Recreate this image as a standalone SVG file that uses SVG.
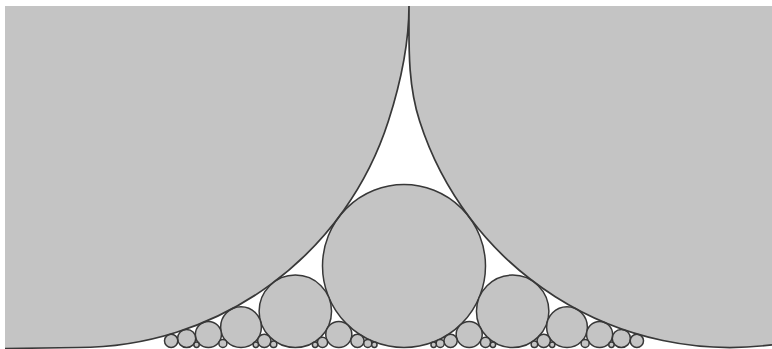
<svg xmlns="http://www.w3.org/2000/svg" width="772" height="349" viewBox="0 0 772 349">
<style>
.c{fill:#c4c4c4;stroke:#383838;stroke-width:1.5}
.edge{fill:none;stroke:#383838;stroke-width:1.7}
</style>
<rect x="0" y="0" width="772" height="349" fill="#ffffff"/>
<rect x="5" y="6" width="767" height="343" fill="#c4c4c4"/>
<g id="gap">
<path d="M5 348.5 L78 347.5 A326 326 0 0 0 388.4 121.1 C400.6 83 409 45 409 6 C409 45 407.4 83 419.6 121.1 A326 326 0 0 0 772 344.8 L772 349 L5 349 Z" fill="#ffffff"/>
</g>
<g id="circles">
<circle class="c" cx="404" cy="266" r="81.5"/>
<circle class="c" cx="295.33" cy="311.28" r="36.22"/>
<circle class="c" cx="512.67" cy="311.28" r="36.22"/>
<circle class="c" cx="241" cy="327.13" r="20.38"/>
<circle class="c" cx="567" cy="327.13" r="20.38"/>
<circle class="c" cx="208.4" cy="334.46" r="13.04"/>
<circle class="c" cx="338.8" cy="334.46" r="13.04"/>
<circle class="c" cx="469.2" cy="334.46" r="13.04"/>
<circle class="c" cx="599.6" cy="334.46" r="13.04"/>
<circle class="c" cx="186.67" cy="338.44" r="9.06"/>
<circle class="c" cx="621.33" cy="338.44" r="9.06"/>
<circle class="c" cx="171.14" cy="340.85" r="6.65"/>
<circle class="c" cx="264.29" cy="340.85" r="6.65"/>
<circle class="c" cx="357.43" cy="340.85" r="6.65"/>
<circle class="c" cx="450.57" cy="340.85" r="6.65"/>
<circle class="c" cx="543.71" cy="340.85" r="6.65"/>
<circle class="c" cx="636.86" cy="340.85" r="6.65"/>
<circle class="c" cx="322.5" cy="342.41" r="5.09"/>
<circle class="c" cx="485.5" cy="342.41" r="5.09"/>
<circle class="c" cx="222.89" cy="343.48" r="4.03"/>
<circle class="c" cx="367.78" cy="343.48" r="4.03"/>
<circle class="c" cx="440.22" cy="343.48" r="4.03"/>
<circle class="c" cx="585.11" cy="343.48" r="4.03"/>
<circle class="c" cx="273.6" cy="344.24" r="3.26"/>
<circle class="c" cx="534.4" cy="344.24" r="3.26"/>
<circle class="c" cx="196.55" cy="344.81" r="2.69"/>
<circle class="c" cx="255.82" cy="344.81" r="2.69"/>
<circle class="c" cx="315.09" cy="344.81" r="2.69"/>
<circle class="c" cx="374.36" cy="344.81" r="2.69"/>
<circle class="c" cx="433.64" cy="344.81" r="2.69"/>
<circle class="c" cx="492.91" cy="344.81" r="2.69"/>
<circle class="c" cx="552.18" cy="344.81" r="2.69"/>
<circle class="c" cx="611.45" cy="344.81" r="2.69"/>
</g>
<g id="outline">
<path class="edge" d="M5 348.5 L78 347.5 A326 326 0 0 0 388.4 121.1 C400.6 83 409 45 409 6 C409 45 407.4 83 419.6 121.1 A326 326 0 0 0 772 344.8"/>
</g>
</svg>
